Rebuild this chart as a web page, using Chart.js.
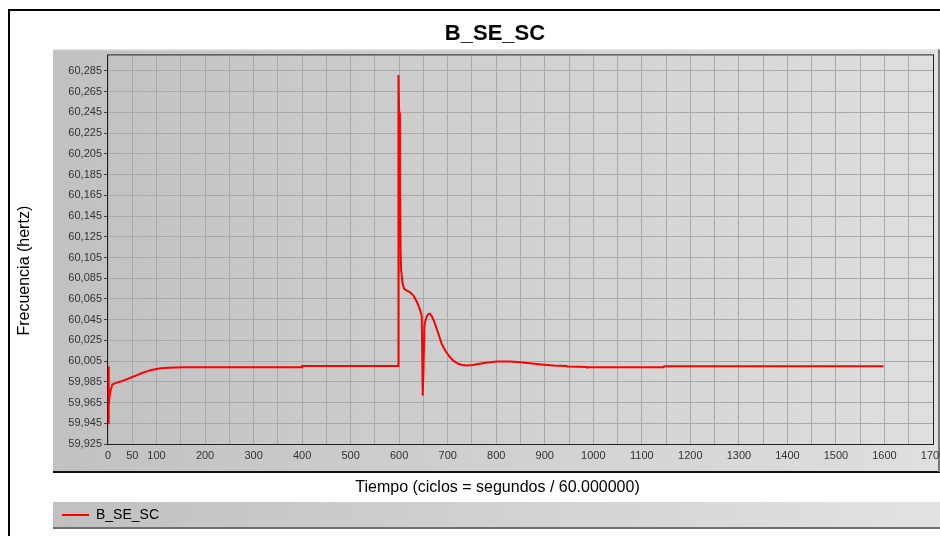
<!DOCTYPE html>
<html>
<head>
<meta charset="utf-8">
<title>B_SE_SC</title>
<script src="https://cdn.jsdelivr.net/npm/chart.js@4.4.1/dist/chart.umd.min.js"></script>
<style>
    html, body { margin: 0; padding: 0; background: #fff; }
</style>
</head>
<body>
<canvas id="graficoFrecuencia" width="940" height="536"></canvas>
<script>
// DATOS
const tiempo = [0, 0.8, 2, 4, 9, 18, 28, 38, 49, 60, 69, 80, 90, 100, 110, 125, 138, 158, 400, 400.5,
    598, 598.5, 600, 601.5, 603, 604, 607, 610, 615, 622, 629, 635, 639.5, 644, 646.5, 648.5, 650, 651.8,
    654, 657, 660, 663.5, 667, 671, 675, 681, 687.5, 695, 704.5, 712, 721.8, 730, 739, 752, 766, 783,
    801, 828, 850, 869.5, 893, 917.6, 945, 946, 986, 987, 1145, 1146, 1598];
const frecuencia = [59.9998, 59.944, 59.962, 59.9745, 59.9825, 59.9842, 59.9856, 59.9874, 59.9894, 59.9915,
    59.9933, 59.9951, 59.9964, 59.9973, 59.998, 59.9986, 59.9989, 59.9991, 59.9991, 60.0002,
    60.0002, 60.281, 60.245, 60.17, 60.111, 60.093, 60.08, 60.075, 60.0733, 60.0715, 60.0685, 60.0635,
    60.0589, 60.053, 60.048, 59.9717, 59.995, 60.0378, 60.044, 60.048, 60.0503, 60.0508, 60.0485,
    60.0445, 60.0395, 60.031, 60.0218, 60.015, 60.0088, 60.0052, 60.0024, 60.0012, 60.0008, 60.0013,
    60.0024, 60.0036, 60.0045, 60.0046, 60.004, 60.003, 60.0018, 60.0008, 60.0003, 59.9998, 59.9993,
    59.9990, 59.9990, 60.0001, 60.0001];

const yTicks = [59.925, 59.945, 59.965, 59.985, 60.005, 60.025, 60.045, 60.065, 60.085, 60.105,
    60.125, 60.145, 60.165, 60.185, 60.205, 60.225, 60.245, 60.265, 60.285];
const xGrid = [0, 50, 100, 150, 200, 250, 300, 350, 400, 450, 500, 550, 600, 650, 700, 750, 800, 850,
    900, 950, 1000, 1050, 1100, 1150, 1200, 1250, 1300, 1350, 1400, 1450, 1500, 1550, 1600, 1650, 1700];
const xLabels = [0, 50, 100, 200, 300, 400, 500, 600, 700, 800, 900, 1000, 1100, 1200, 1300, 1400,
    1500, 1600, 1700];

Chart.defaults.font.family = '"Liberation Sans", Arial, sans-serif';

// mueve el titulo de un eje (el original no esta centrado en el area)
function desplazarTitulo(scale, dx, dy) {
    if (scale._desplazado) return;
    const original = scale.drawTitle.bind(scale);
    scale.drawTitle = function () {
        this.ctx.save();
        this.ctx.translate(dx, dy);
        original();
        this.ctx.restore();
    };
    scale._desplazado = true;
}

// fondo gris, marco y barra de leyenda
const fondoPanel = {
    id: "fondoPanel",
    afterLayout(chart) {
        chart.titleBlock.left = 57;
        chart.legend.left = 55;
        desplazarTitulo(chart.scales.x, -23, 0);
        desplazarTitulo(chart.scales.y, 0, 21);
    },
    beforeDraw(chart) {
        const ctx = chart.ctx;
        const a = chart.chartArea;
        const W = chart.width, H = chart.height;
        ctx.save();
        ctx.fillStyle = "#ffffff";
        ctx.fillRect(0, 0, W, H);

        // marco exterior
        ctx.strokeStyle = "#000";
        ctx.lineWidth = 2;
        ctx.beginPath();
        ctx.moveTo(9, H);
        ctx.lineTo(9, 10);
        ctx.lineTo(W, 10);
        ctx.stroke();

        // panel del grafico
        const pl = a.left - 55, pt = a.top - 6, pr = W - 2, pb = a.bottom + 28;
        let g = ctx.createLinearGradient(pl, 0, pr, 0);
        g.addColorStop(0, "#c1c1c1");
        g.addColorStop(1, "#dfdfdf");
        ctx.fillStyle = g;
        ctx.fillRect(pl, pt, pr - pl, pb - pt);
        ctx.fillStyle = "#e6e6e6";
        ctx.fillRect(pl, pt, pr - pl, 1);
        ctx.fillStyle = "#111";
        ctx.fillRect(pl, pb - 1, pr - pl + 2, 2);
        ctx.fillStyle = "#777";
        ctx.fillRect(pr, pt, 2, pb - pt);

        // barra de la leyenda
        const lt = chart.legend.top + 1, lb = lt + 26;
        g = ctx.createLinearGradient(pl, 0, W, 0);
        g.addColorStop(0, "#c0c0c0");
        g.addColorStop(1, "#e2e2e2");
        ctx.fillStyle = g;
        ctx.fillRect(pl, lt, W - pl, lb - lt);
        ctx.fillStyle = "#6e6e6e";
        ctx.fillRect(pl, lb - 1, W - pl, 2);
        ctx.restore();
    },
    beforeDatasetsDraw(chart) {
        const ctx = chart.ctx;
        const a = chart.chartArea;
        ctx.save();
        ctx.strokeStyle = "#222";
        ctx.lineWidth = 1;
        ctx.strokeRect(a.left - 0.5, a.top - 0.5, a.right - a.left + 1, a.bottom - a.top + 1);
        ctx.restore();
    }
};

document.addEventListener("DOMContentLoaded", function () {
    const ctx = document.getElementById("graficoFrecuencia").getContext("2d");
    new Chart(ctx, {
        type: "line",
        data: {
            datasets: [{
                label: "B_SE_SC",
                data: tiempo.map((t, i) => ({ x: t, y: frecuencia[i] })),
                borderColor: "#ff0000",
                backgroundColor: "#ff0000",
                borderWidth: 2,
                pointRadius: 0,
                tension: 0,
                fill: false
            }]
        },
        options: {
            responsive: false,
            animation: false,
            devicePixelRatio: 1,
            layout: {
                autoPadding: false,
                padding: { top: 9, left: 10, right: 7, bottom: 4 }
            },
            scales: {
                x: {
                    type: "linear",
                    min: 0,
                    max: 1700,
                    afterFit(s) {
                        s.height = 57;
                        s.paddingLeft = 0;
                        s.paddingRight = 0;
                    },
                    afterBuildTicks(s) { s.ticks = xGrid.map(v => ({ value: v })); },
                    ticks: {
                        autoSkip: false,
                        maxRotation: 0,
                        padding: 5,
                        color: "#333",
                        font: { size: 11 },
                        callback: v => xLabels.includes(v) ? String(v) : ""
                    },
                    grid: { color: "#a9a9a9", drawTicks: false },
                    border: { display: false },
                    title: {
                        display: true,
                        text: "Tiempo (ciclos = segundos / 60.000000)",
                        color: "#000",
                        font: { size: 16 },
                        padding: { top: 0, bottom: 4 }
                    }
                },
                y: {
                    type: "linear",
                    min: 59.925,
                    max: 60.30,
                    afterFit(s) {
                        s.width = 98;
                        s.paddingTop = 0;
                        s.paddingBottom = 0;
                    },
                    afterBuildTicks(s) { s.ticks = yTicks.map(v => ({ value: v })); },
                    ticks: {
                        padding: 2,
                        color: "#333",
                        font: { size: 11 },
                        callback: v => v.toFixed(3).replace(".", ",")
                    },
                    grid: { color: "#a9a9a9", tickColor: "#444", tickLength: 4 },
                    border: { display: false },
                    title: {
                        display: true,
                        text: "Frecuencia (hertz)",
                        color: "#000",
                        font: { size: 16 },
                        padding: { top: 5, bottom: 0 }
                    }
                }
            },
            plugins: {
                title: {
                    display: true,
                    text: "B_SE_SC",
                    color: "#000",
                    font: { size: 22, weight: "bold" },
                    padding: { top: 12, bottom: 8 }
                },
                legend: {
                    position: "bottom",
                    align: "start",
                    labels: {
                        usePointStyle: true,
                        pointStyle: "line",
                        pointStyleWidth: 27,
                        padding: 7,
                        color: "#000",
                        font: { size: 14 }
                    }
                },
                tooltip: { enabled: false }
            }
        },
        plugins: [fondoPanel]
    });
});
</script>
</body>
</html>
